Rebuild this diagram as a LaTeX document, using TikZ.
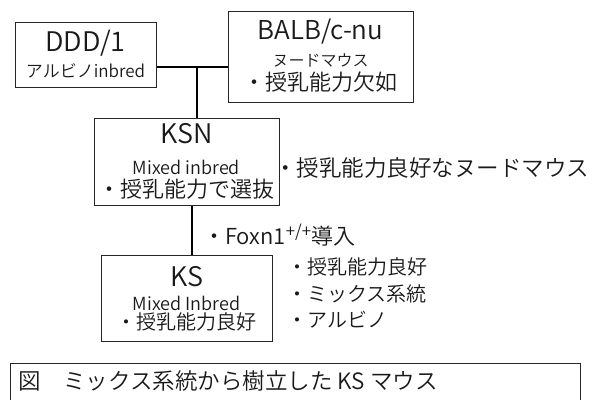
\documentclass[tikz,border=0pt]{standalone}
\usepackage{fontspec}
\setmainfont{Noto Sans CJK JP}[UprightFont=* DemiLight]
\newcommand{\fs}[1]{\fontsize{#1}{#1}\selectfont}
\begin{document}
\begin{tikzpicture}[x=1pt,y=-1pt,
  box/.style={draw=black!85,line width=1.1pt,anchor=north west,inner sep=0pt,minimum width=#1},
  conn/.style={draw=black,line width=2.4pt},
  txt/.style={inner sep=0pt,text=black!90},
  lbl/.style={inner sep=0pt,anchor=west,text=black!90}]
\clip (0,0) rectangle (594,399);
% boxes
\node[box=141pt,minimum height=65pt] (ddd) at (15,22) {};
\node[box=185pt,minimum height=91pt] (balb) at (228,11) {};
\node[box=185pt,minimum height=87pt] (ksn) at (94,118) {};
\node[box=171pt,minimum height=86pt] (ks) at (101,255) {};
\node[box=570pt,minimum height=60pt] (cap) at (10,363) {};
% texts
\node[txt] (t1) at (85.5,43) {\fs{27}DDD/1};
\node[txt] (t2) at (85.5,71) {\fs{17}アルビノinbred};
\node[txt] (t3) at (320.5,32) {\fs{26}BALB/c-nu};
\node[txt] (t4) at (320.5,60) {\fs{16}ヌードマウス};
\node[txt] (t5) at (320.5,82) {\fs{22}・授乳能力欠如};
\node[txt] (t6) at (186.5,134) {\fs{27}KSN};
\node[txt] (t7) at (186.5,167) {\fs{18}Mixed inbred};
\node[txt] (t8) at (186.5,189) {\fs{22}・授乳能力で選抜};
\node[lbl] (t9) at (274,168) {\fs{22.5}・授乳能力良好なヌードマウス};
\node[lbl] (t10) at (203,235) {\fs{22}・Foxn1\raisebox{0.3em}{\fs{17}+/+}導入};
\node[txt] (t11) at (186.5,277) {\fs{27}KS};
\node[txt] (t12) at (186.5,303) {\fs{18}Mixed Inbred};
\node[txt] (t13) at (186.5,322) {\fs{20}・授乳能力良好};
\node[lbl] (t14) at (287,267) {\fs{20}・授乳能力良好};
\node[lbl] (t15) at (287,294) {\fs{20}・ミックス系統};
\node[lbl] (t16) at (287,320) {\fs{20}・アルビノ};
\node[lbl] (t17) at (18,381) {\fs{22.5}図　ミックス系統から樹立した KS マウス};
% connectors
\coordinate (j) at (197,67);
\coordinate (k) at (192,230);
\draw[conn] (ddd.east |- j) -- (balb.west |- j);
\draw[conn] (j) -- (ksn.north -| j);
\draw[conn] (ksn.south -| k) -- (ks.north -| k);
\end{tikzpicture}
\end{document}
